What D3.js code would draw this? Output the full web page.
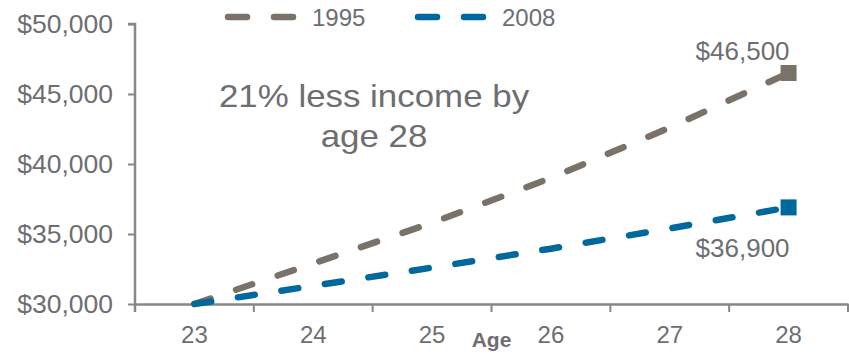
<!DOCTYPE html>
<html>
<head>
<meta charset="utf-8">
<script src="https://cdn.jsdelivr.net/npm/d3@7"></script>
<style>
  html, body { margin: 0; padding: 0; background: #ffffff; }
  svg text { font-family: "Liberation Sans", Arial, Helvetica, sans-serif; }
</style>
</head>
<body>
<svg id="chart" width="849" height="356"></svg>
<script>
// Median income by age for two cohorts
const ages = [23, 24, 25, 26, 27, 28];
const income1995 = [30000, 32900, 35800, 39000, 42600, 46500];
const income2008 = [30000, 31300, 32600, 33950, 35400, 36900];
const seriesNames = ["1995", "2008"];
const yTicks = [30000, 35000, 40000, 45000, 50000];
const endLabels = ["$46,500", "$36,900"];
const note = ["21% less income by", "age 28"];
const xTitle = "Age";

const textColor = "#6d6e71";
const axisColor = "#878787";
const colors = ["#7a7268", "#00689c"];

const svg = d3.select("#chart");
const margin = { left: 135, right: 1, top: 24, bottom: 52 };
const W = 849, H = 356;

const x = d3.scaleBand().domain(ages).range([margin.left, W - margin.right]).padding(0);
const y = d3.scaleLinear().domain([30000, 50000]).range([H - margin.bottom, margin.top]);
const cx = d => x(d) + x.bandwidth() / 2;

// Widen glyphs horizontally around each text's own anchor x
function widen(sel, s) {
  sel.each(function () {
    const ax = +this.getAttribute("x") || 0;
    this.setAttribute("transform", `translate(${ax},0) scale(${s},1) translate(${-ax},0)`);
  });
}

// Y axis
const yAxis = svg.append("g")
  .attr("transform", `translate(${margin.left},0)`)
  .call(d3.axisLeft(y).tickValues(yTicks).tickSize(7).tickPadding(15)
    .tickFormat(d => "$" + d3.format(",")(d)));
yAxis.select(".domain").attr("stroke", axisColor).attr("stroke-width", 2.5)
  .attr("d", `M-7,${y(50000)}H0V${y(30000) + 8}`);
yAxis.selectAll(".tick line").attr("stroke", axisColor).attr("stroke-width", 2);
yAxis.selectAll(".tick text").attr("fill", textColor).attr("font-size", 25.5)
  .attr("font-family", "Liberation Sans, Arial, sans-serif");
widen(yAxis.selectAll(".tick text"), 1.04);

// X axis: labels centred in each band, tick marks on band boundaries
const xAxis = svg.append("g")
  .attr("transform", `translate(0,${y(30000)})`)
  .call(d3.axisBottom(x).tickSize(0).tickPadding(22));
xAxis.select(".domain").attr("stroke", axisColor).attr("stroke-width", 2.5);
xAxis.selectAll(".tick text").attr("fill", textColor).attr("font-size", 24)
  .attr("font-family", "Liberation Sans, Arial, sans-serif");
const bounds = ages.map(a => x(a)).concat([x(ages[ages.length - 1]) + x.bandwidth()]);
xAxis.selectAll("line.bound").data(bounds).enter().append("line")
  .attr("class", "bound")
  .attr("x1", d => d).attr("x2", d => d)
  .attr("y1", 0).attr("y2", 8)
  .attr("stroke", axisColor).attr("stroke-width", 2);

svg.append("text")
  .attr("x", x(26)).attr("y", 347)
  .attr("text-anchor", "middle")
  .attr("font-size", 21).attr("font-weight", "bold")
  .attr("fill", textColor)
  .text(xTitle);

// Lines
const line = d3.line().x((d, i) => cx(ages[i])).y(d => y(d));
[income1995, income2008].forEach((vals, k) => {
  svg.append("path")
    .attr("d", line(vals))
    .attr("fill", "none")
    .attr("stroke", colors[k])
    .attr("stroke-width", 6.5)
    .attr("stroke-linecap", "round")
    .attr("stroke-dasharray", "17,27");
  const last = vals.length - 1;
  svg.append("rect")
    .attr("x", cx(ages[last]) - 8).attr("y", y(vals[last]) - 8)
    .attr("width", 16).attr("height", 16)
    .attr("fill", colors[k]);
});

// End value labels
const lab1 = svg.append("text")
  .attr("x", cx(28) + 1).attr("y", y(income1995[5]) - 13)
  .attr("text-anchor", "end").attr("font-size", 25.5).attr("fill", textColor)
  .text(endLabels[0]);
const lab2 = svg.append("text")
  .attr("x", cx(28) + 1).attr("y", y(income2008[5]) + 50)
  .attr("text-anchor", "end").attr("font-size", 25.5).attr("fill", textColor)
  .text(endLabels[1]);
widen(lab1, 1.02);
widen(lab2, 1.02);

// Annotation
const noteText = svg.append("text")
  .attr("x", 374).attr("y", 107)
  .attr("text-anchor", "middle").attr("font-size", 32).attr("fill", textColor);
noteText.selectAll("tspan").data(note).enter().append("tspan")
  .attr("x", 374).attr("dy", (d, i) => i === 0 ? 0 : 40)
  .text(d => d);
widen(noteText, 1.09);

// Legend
const legendX = [228, 418];
seriesNames.forEach((name, k) => {
  svg.append("line")
    .attr("x1", legendX[k]).attr("x2", legendX[k] + 65)
    .attr("y1", 17).attr("y2", 17)
    .attr("stroke", colors[k]).attr("stroke-width", 6.5)
    .attr("stroke-linecap", "round")
    .attr("stroke-dasharray", "19,27");
  svg.append("text")
    .attr("x", legendX[k] + 84).attr("y", 26)
    .attr("font-size", 24).attr("fill", textColor)
    .text(name);
});
</script>
</body>
</html>
